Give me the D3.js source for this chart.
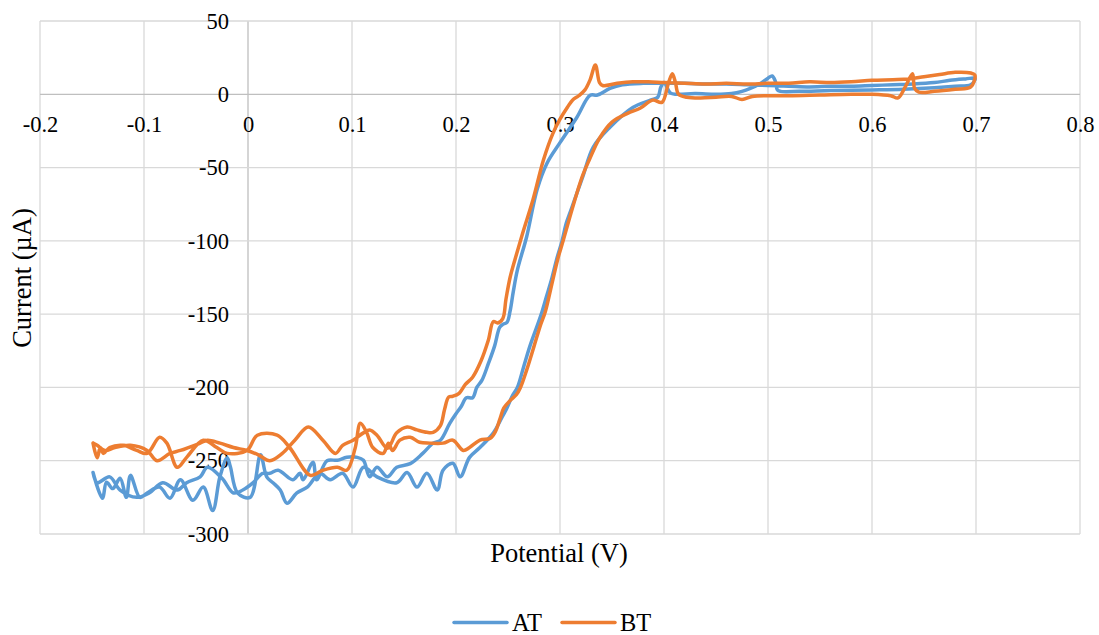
<!DOCTYPE html>
<html>
<head>
<meta charset="utf-8">
<script src="https://cdn.jsdelivr.net/npm/d3@7"></script>
<style>
  body { margin: 0; background: #fff; }
</style>
</head>
<body>
<div id="chart"></div>
<script>
// tick values
var xTicks = [-0.2, -0.1, 0, 0.1, 0.2, 0.3, 0.4, 0.5, 0.6, 0.7, 0.8];
var yTicks = [-300, -250, -200, -150, -100, -50, 0, 50];

var seriesNames = ["AT", "BT"];
var seriesColors = ["#5B9BD5", "#ED7D31"];

// AT: forward scan then reverse scan, [potential V, current uA]
var atValues = [
  [-0.149,-258],[-0.140,-275.6],[-0.136,-264.7],[-0.130,-269],[-0.123,-262],[-0.117,-275],[-0.113,-260],
  [-0.104,-275],[-0.097,-272],[-0.085,-268],[-0.075,-275.6],[-0.065,-263],[-0.053,-277],[-0.043,-268],
  [-0.034,-284],[-0.027,-261],[-0.020,-248],[-0.017,-254],[-0.010,-272],[0.002,-275],[0.012,-246],
  [0.018,-261],[0.024,-265],[0.031,-270],[0.0375,-279],[0.047,-272],[0.057,-268],[0.069,-258.6],
  [0.079,-263],[0.091,-258.6],[0.101,-268],[0.111,-254.5],[0.124,-261],[0.143,-265],[0.153,-258],
  [0.1625,-268],[0.172,-258.6],[0.182,-270],[0.1875,-256.5],[0.197,-251.7],[0.204,-261],[0.213,-247.7],
  [0.223,-241],[0.236,-231],[0.243,-222],[0.249,-214],[0.254,-206],[0.259,-200],[0.265,-186],
  [0.271,-172],[0.277,-160],[0.282,-150],[0.287,-138],[0.292,-126],[0.297,-112],[0.302,-100],
  [0.306,-88],[0.310,-80],[0.317,-66],[0.322,-56],[0.332,-36],[0.348,-22.5],[0.370,-9],[0.387,-4],
  [0.394,-2],[0.397,5],[0.400,8],[0.406,1],[0.412,0],[0.430,0.5],[0.450,0],[0.465,0.5],[0.475,2],
  [0.483,4],[0.492,7],[0.500,11],[0.504,12.5],[0.507,9],[0.509,3],[0.512,2],[0.530,2],[0.560,2.5],
  [0.600,3],[0.630,3.5],[0.660,4.5],[0.680,5.5],[0.695,6.5],[0.699,10],
  [0.699,11],[0.690,10.5],[0.675,9.5],[0.660,8],[0.640,7],[0.620,6.5],[0.600,6],[0.580,5.5],[0.560,5.5],
  [0.540,5],[0.520,5.5],[0.500,6],[0.480,6.5],[0.460,7],[0.440,7],[0.420,7.5],[0.400,7.5],[0.380,7.5],
  [0.360,6.5],[0.348,4],[0.336,-0.5],[0.329,-0.7],[0.316,-16],[0.300,-33],[0.2875,-47],[0.278,-65],
  [0.268,-97],[0.259,-120],[0.255,-135],[0.252,-148],[0.249,-155.6],[0.245,-157],[0.242,-159],
  [0.237,-172],[0.231,-184],[0.225,-195],[0.220,-200],[0.216,-207],[0.210,-207],[0.205,-213],
  [0.200,-218],[0.194,-224.5],[0.185,-236],[0.178,-238],[0.168,-245],[0.156,-252],[0.143,-254.5],
  [0.134,-261],[0.124,-254.5],[0.117,-261],[0.111,-249.7],[0.105,-247.7],[0.095,-247.7],[0.086,-249.7],
  [0.076,-250],[0.066,-263],[0.0625,-251],[0.053,-263],[0.050,-258.6],[0.043,-263],[0.029,-256.5],
  [0.021,-258.6],[0.014,-258.6],[0.005,-265],[-0.005,-270],[-0.014,-272],[-0.025,-262],[-0.039,-254.5],
  [-0.046,-261],[-0.059,-265],[-0.068,-270],[-0.082,-265],[-0.095,-272],[-0.107,-275],[-0.123,-270],
  [-0.133,-261],[-0.145,-265],[-0.149,-258]
];

// BT: forward scan then reverse scan
var btValues = [
  [-0.149,-238],[-0.145,-248],[-0.142,-241],[-0.139,-245],[-0.133,-241],[-0.120,-239.5],[-0.107,-243],
  [-0.097,-245],[-0.085,-234],[-0.078,-238],[-0.068,-254.5],[-0.059,-247.7],[-0.043,-236],[-0.030,-241],
  [-0.020,-245],[-0.001,-243],[0.009,-232.6],[0.028,-232.6],[0.040,-241],[0.060,-260],[0.072,-256.5],
  [0.086,-254.5],[0.095,-256.5],[0.103,-241.5],[0.108,-224.5],[0.114,-230.6],[0.120,-241],[0.130,-245],
  [0.135,-238],[0.139,-243],[0.146,-236],[0.156,-234],[0.165,-237.4],[0.175,-238],[0.1875,-238],
  [0.197,-236],[0.207,-243],[0.213,-241],[0.223,-236],[0.233,-234.7],[0.238,-230],[0.242,-222],
  [0.246,-214],[0.252,-209],[0.258,-205],[0.262,-200],[0.268,-188],[0.275,-172],[0.281,-158],
  [0.286,-148],[0.292,-130],[0.298,-112],[0.303,-100],[0.309,-85],[0.316,-68],[0.322,-55],[0.328,-45],
  [0.338,-30],[0.350,-19],[0.365,-13],[0.377,-9.5],[0.389,-4],[0.398,-5.5],[0.404,7],[0.408,14],
  [0.411,8],[0.414,0],[0.422,-2],[0.435,-2.5],[0.450,-2],[0.465,-1.5],[0.475,-3.5],[0.485,-1.5],
  [0.500,-1],[0.520,-1],[0.550,-0.5],[0.580,0],[0.600,0],[0.618,-1],[0.625,-2.5],[0.632,5],[0.639,14],
  [0.641,4],[0.645,1.5],[0.660,2],[0.680,3.5],[0.695,5],[0.699,13],
  [0.695,14.5],[0.680,15],[0.665,13.5],[0.650,12],[0.635,10.5],[0.620,10],[0.600,9.5],[0.580,8.5],
  [0.560,8],[0.540,8.5],[0.520,7.5],[0.500,7.5],[0.480,7],[0.460,7.5],[0.440,7],[0.420,7.5],[0.400,8],
  [0.385,8.5],[0.370,8.5],[0.355,7.5],[0.341,6],[0.338,8],[0.334,20],[0.329,10],[0.324,3],[0.318,-1],
  [0.312,-4],[0.307,-9],[0.300,-17],[0.293,-27],[0.284,-45],[0.274,-72],[0.264,-95],[0.257,-112],
  [0.252,-125],[0.248,-140],[0.245,-153],[0.240,-156],[0.236,-155],[0.231,-168],[0.224,-182],
  [0.216,-193],[0.209,-198],[0.203,-204],[0.197,-206],[0.193,-206.5],[0.189,-215],[0.185,-226],
  [0.178,-230.6],[0.172,-230.6],[0.1625,-229],[0.153,-227],[0.143,-231],[0.134,-241.5],[0.124,-232.6],
  [0.117,-229],[0.111,-231],[0.101,-236],[0.091,-239.5],[0.084,-245],[0.072,-236],[0.058,-227],
  [0.045,-236],[0.033,-245],[0.021,-250],[0.010,-246],[-0.001,-243],[-0.014,-241],[-0.027,-238],
  [-0.039,-236],[-0.046,-238],[-0.065,-243],[-0.075,-245],[-0.0875,-250],[-0.097,-243],[-0.113,-239.5],
  [-0.128,-241],[-0.1375,-243],[-0.145,-239.5],[-0.149,-238]
];

var series = [atValues, btValues];
var serif = "'Liberation Serif', 'Times New Roman', serif";

var width = 1099, height = 635;
var svg = d3.select("#chart").append("svg").attr("width", width).attr("height", height);

var x = d3.scaleLinear().domain([-0.2, 0.8]).range([40, 1080]);
var y = d3.scaleLinear().domain([-300, 50]).range([534, 21]);

// plain hyphen for negatives, like the original
function plain(d) { return String(d); }

// grid
svg.append("g").selectAll("line").data(xTicks).enter().append("line")
    .attr("x1", function (d) { return x(d); }).attr("x2", function (d) { return x(d); })
    .attr("y1", y(50)).attr("y2", y(-300))
    .style("stroke", function (d) { return d === 0 ? "#bfbfbf" : "#d9d9d9"; })
    .style("stroke-width", 1.3);
svg.append("g").selectAll("line").data(yTicks).enter().append("line")
    .attr("y1", function (d) { return y(d); }).attr("y2", function (d) { return y(d); })
    .attr("x1", x(-0.2)).attr("x2", x(0.8))
    .style("stroke", function (d) { return d === 0 ? "#bfbfbf" : "#d9d9d9"; })
    .style("stroke-width", 1.3);

// axes (labels only, crossing at 0)
var xAxis = svg.append("g").attr("transform", "translate(0," + y(0) + ")")
    .call(d3.axisBottom(x).tickValues(xTicks).tickSize(0).tickFormat(plain));
xAxis.select(".domain").remove();
xAxis.selectAll("text").attr("y", 38).attr("dy", null);

var yAxis = svg.append("g").attr("transform", "translate(" + x(0) + ",0)")
    .call(d3.axisLeft(y).tickValues(yTicks).tickSize(0).tickPadding(19).tickFormat(plain));
yAxis.select(".domain").remove();

svg.selectAll(".tick text")
    .style("font-family", serif).style("font-size", "22.5px").style("fill", "#000");

// curves
var line = d3.line()
    .x(function (d) { return x(d[0]); })
    .y(function (d) { return y(d[1]); })
    .curve(d3.curveCatmullRom.alpha(0.5));

svg.append("g").selectAll("path").data(series).enter().append("path")
    .attr("d", line)
    .style("fill", "none")
    .style("stroke", function (d, i) { return seriesColors[i]; })
    .style("stroke-width", 3.5)
    .style("stroke-linejoin", "round")
    .style("stroke-linecap", "round");

// titles
svg.append("text").attr("x", 559).attr("y", 562).attr("text-anchor", "middle")
    .style("font-family", serif).style("font-size", "26.5px").text("Potential (V)");
svg.append("text").attr("transform", "translate(31,278) rotate(-90)").attr("text-anchor", "middle")
    .style("font-family", serif).style("font-size", "26.5px").text("Current (µA)");

// legend
var legendX = [454, 562];
var lg = svg.append("g").selectAll("g").data(seriesNames).enter().append("g")
    .attr("transform", function (d, i) { return "translate(" + legendX[i] + ",622.5)"; });
lg.append("line").attr("x1", 0).attr("x2", 53)
    .style("stroke", function (d, i) { return seriesColors[i]; })
    .style("stroke-width", 3.5).style("stroke-linecap", "round");
lg.append("text").attr("x", 58).attr("y", 8.5)
    .style("font-family", serif).style("font-size", "24.5px").text(function (d) { return d; });
</script>
</body>
</html>
